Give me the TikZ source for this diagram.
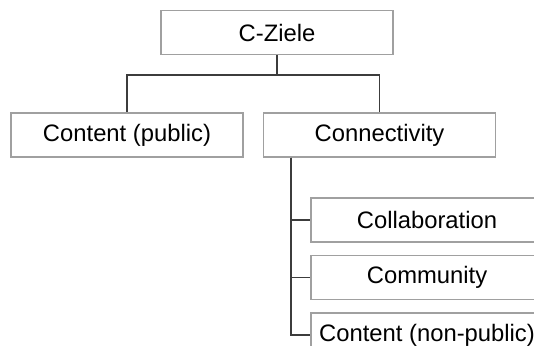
\documentclass[tikz,border=0pt]{standalone}
\usepackage{fontspec}
\setmainfont{Liberation Sans}
\usepackage{tikz, xcolor}
\usetikzlibrary{positioning}

\definecolor{boxgray}{HTML}{A0A0A0}
\definecolor{linegray}{HTML}{3C3C3C}

\begin{document}
\begin{tikzpicture}[x=1pt, y=1pt,
    %Formats the boxes and the connectors
    goalbox/.style={draw=boxgray, line width=1.2pt, minimum width=232pt,
        minimum height=44pt, inner sep=0pt,
        font=\fontsize{23.8}{28}\selectfont},
    branch/.style={draw=linegray, line width=1.3pt}
    ]
\clip (0,0) rectangle (534,345);
%Top level
\node[goalbox] (ziele) at (277,312.5) {C-Ziele};
%Second level
\node[goalbox] (cpublic) at (127,210) {Content (public)};
\node[goalbox] (connect) at (379.5,210) {Connectivity};
%Third level
\node[goalbox] (collab) at (427,125) {Collaboration};
\node[goalbox] (commun) at (427,67.5) {Community};
\node[goalbox] (cnonpub) at (427,10) {Content (non-public)};
%Connectors
\draw[branch] (ziele.south) -- ++(0,-20) coordinate (fork) -| (cpublic.north);
\draw[branch] (fork) -| (connect.north);
\draw[branch] ([xshift=28pt]connect.south west) coordinate (trunk) |- (cnonpub.west);
\draw[branch] (trunk) |- (collab.west);
\draw[branch] (trunk) |- (commun.west);
\end{tikzpicture}
\end{document}
